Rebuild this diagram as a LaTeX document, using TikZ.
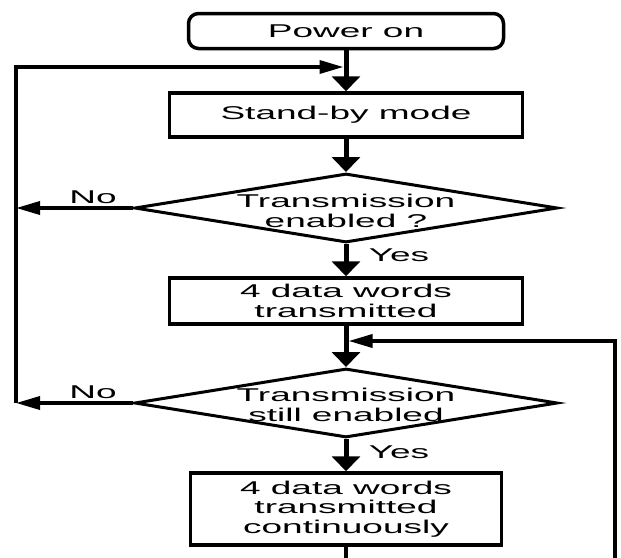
\documentclass[tikz,border=0pt]{standalone}
\usepackage{fontspec}
\newfontfamily\chartfont{Liberation Sans}[FakeStretch=2.0]
\usetikzlibrary{shapes.geometric,arrows.meta}

\begin{document}
\begin{tikzpicture}[x=1pt, y=-1pt, line width=3.5pt,
    font=\chartfont\fontsize{18.5}{19.5}\selectfont,
    startbox/.style={draw, rectangle, rounded corners=10pt, inner sep=0pt},
    block/.style={draw, rectangle, align=center, inner sep=0pt},
    decision/.style={draw, diamond, line width=3pt, minimum width=423pt, minimum height=69pt, inner sep=0pt},
    vflow/.style={line width=5pt, -{Triangle[length=15pt,width=28pt]}},
    hflow/.style={-{Triangle[length=24pt,width=13pt]}}]
    \useasboundingbox (0,0) rectangle (621,557);

    % boxes
    \node[startbox, minimum width=315pt, minimum height=35pt] (power) at (346,31) {Power on};
    \node[block, minimum width=353pt, minimum height=44pt] (standby) at (346,115) {Stand-by mode};
    \node[decision, label={[align=center, yshift=-3pt]center:Transmission\\enabled ?}] (enab) at (346,208) {};
    \node[block, minimum width=353pt, minimum height=46pt] (words) at (346,301) {4 data words\\transmitted};
    \node[decision, label={[align=center, yshift=-2pt]center:Transmission\\still enabled}] (still) at (346,403) {};
    \node[block, minimum width=311pt, minimum height=72pt] (cont) at (346,509) {4 data words\\transmitted\\continuously};

    % labels
    \node (no1) at (93,197) {No};
    \node (yes1) at (399,255) {Yes};
    \node (no2) at (93,392) {No};
    \node (yes2) at (399,452) {Yes};

    % corners of the loops
    \coordinate (top) at (346,67);
    \coordinate (lefttop) at (16,67);
    \coordinate (leftbot) at (16,403);
    \coordinate (merge) at (346,341);
    \coordinate (right) at (615,341);

    % flow
    \draw[vflow] (power) -- (standby);
    \draw[vflow] (standby) -- (enab);
    \draw[vflow] (enab) -- (words);
    \draw[vflow] (words) -- (still);
    \draw[vflow] (still) -- (cont);
    \draw[hflow] (enab.west) -- (enab.west -| lefttop);
    \draw[hflow] (still.west) -- (leftbot);
    \draw[hflow, shorten >=2.5pt] (leftbot) -- (lefttop) -- (top);
    \draw[hflow, shorten >=2.5pt] (cont.south) -- ++(0,40) -| (right) -- (merge);
\end{tikzpicture}
\end{document}
